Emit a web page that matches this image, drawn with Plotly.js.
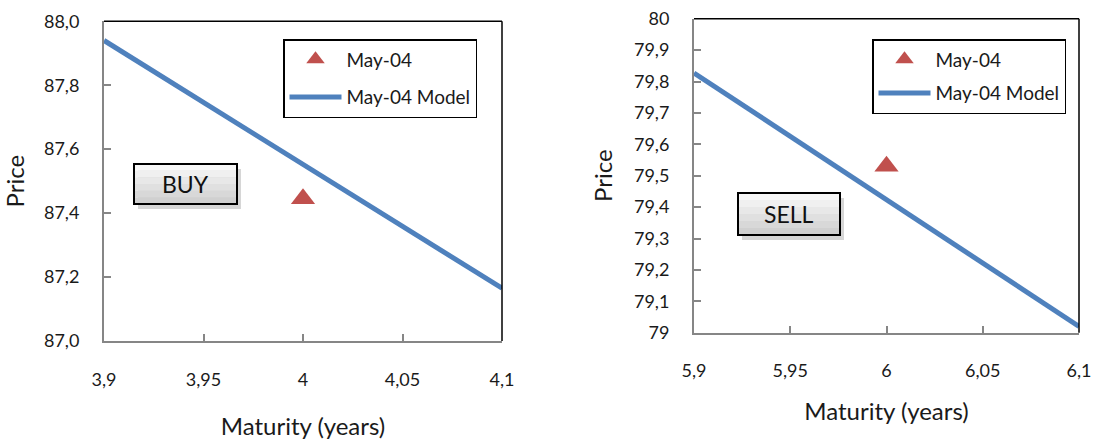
<!DOCTYPE html>
<html>
<head>
<meta charset="utf-8">
<script src="https://cdn.plot.ly/plotly-3.0.1.min.js"></script>
<style>html,body{margin:0;padding:0;background:#fff;}#chart{width:1097px;height:441px;}</style>
</head>
<body>
<div id="chart"></div>
<script>
// ---- data ----
const seriesNames = ["May-04", "May-04 Model"];
const buyMaturity = [4];
const buyPrice = [87.445];
const buyModelMaturity = [3.9, 4.1];
const buyModelPrice = [87.94, 87.165];
const sellMaturity = [6];
const sellPrice = [79.53];
const sellModelMaturity = [5.9, 6.1];
const sellModelPrice = [79.827, 79.02];
const signalLabels = ["BUY", "SELL"];
const xTitle = "Maturity (years)";
const yTitle = "Price";

// ---- styling / layout helpers ----
const W = 1097, H = 441;
const px = x => x / W;
const py = y => 1 - y / H;
const FONT = "Lato, 'Open Sans', sans-serif";
const RED = "#C0504D", BLUE = "#4F81BD", AXIS = "#868686";

const traces = [
  {x: buyMaturity, y: buyPrice, name: seriesNames[0], mode: "markers", type: "scatter",
   marker: {symbol: "triangle-up", size: 21, color: RED}, xaxis: "x", yaxis: "y", legend: "legend", legendgroup: "a"},
  {x: buyModelMaturity, y: buyModelPrice, name: seriesNames[1], mode: "lines", type: "scatter",
   line: {color: BLUE, width: 5}, xaxis: "x", yaxis: "y", legend: "legend", legendgroup: "b"},
  {x: sellMaturity, y: sellPrice, name: seriesNames[0], mode: "markers", type: "scatter",
   marker: {symbol: "triangle-up", size: 21, color: RED}, xaxis: "x2", yaxis: "y2", legend: "legend2", legendgroup: "c"},
  {x: sellModelMaturity, y: sellModelPrice, name: seriesNames[1], mode: "lines", type: "scatter",
   line: {color: BLUE, width: 5}, xaxis: "x2", yaxis: "y2", legend: "legend2", legendgroup: "d"}
];

function xAxis(domain, range, anchor, standoff) {
  return {domain: domain, range: range, anchor: anchor, dtick: 0.05, tick0: range[0],
    ticks: "inside", ticklen: 7, tickcolor: AXIS, tickwidth: 2,
    showline: true, linecolor: AXIS, linewidth: 2, showgrid: false, zeroline: false,
    ticklabelstandoff: 21, tickfont: {family: FONT, size: 18, color: "#1a1a1a"},
    title: {text: xTitle, font: {family: FONT, size: 24, color: "#1a1a1a"}, standoff: standoff},
    automargin: false, fixedrange: true};
}
function yAxis(domain, range, anchor, dtick, fmt, standoff) {
  return {domain: domain, range: range, anchor: anchor, dtick: dtick, tick0: range[0], tickformat: fmt,
    ticks: "inside", ticklen: 7, tickcolor: AXIS, tickwidth: 2,
    showline: true, linecolor: AXIS, linewidth: 2, showgrid: false, zeroline: false,
    ticklabelstandoff: 19, tickfont: {family: FONT, size: 18, color: "#1a1a1a"},
    title: {text: yTitle, font: {family: FONT, size: 24, color: "#1a1a1a"}, standoff: standoff},
    automargin: false, fixedrange: true};
}

function frame(xr, yr) {
  return [
    {type: "line", xref: xr + " domain", yref: yr + " domain", x0: 0, x1: 1, y0: 1, y1: 1, line: {color: "#000", width: 1.5}},
    {type: "line", xref: xr + " domain", yref: yr + " domain", x0: 1, x1: 1, y0: 0, y1: 1, line: {color: "#000", width: 1.5}}
  ];
}
function button(x0, y0, x1, y1) {
  const s = [];
  s.push({type: "rect", xref: "paper", yref: "paper", x0: px(x0 + 4), x1: px(x1 + 4), y0: py(y1 + 5), y1: py(y0 + 5),
          fillcolor: "rgba(0,0,0,0.16)", line: {width: 0}, layer: "above"});
  const bands = ["#f8f8f8", "#f0f0f0", "#e8e8e8", "#e0e0e0", "#d8d8d8", "#d0d0d0"];
  const h = (y1 - y0) / bands.length;
  bands.forEach((c, i) => s.push({type: "rect", xref: "paper", yref: "paper", x0: px(x0), x1: px(x1),
          y0: py(y0 + (i + 1) * h), y1: py(y0 + i * h), fillcolor: c, line: {width: 0}, layer: "above"}));
  s.push({type: "rect", xref: "paper", yref: "paper", x0: px(x0), x1: px(x1), y0: py(y1), y1: py(y0),
          fillcolor: "rgba(0,0,0,0)", line: {color: "#000", width: 2}, layer: "above"});
  return s;
}

const legendFont = {family: FONT, size: 19, color: "#1a1a1a"};
const layout = {
  width: W, height: H, margin: {l: 0, r: 0, t: 0, b: 0},
  paper_bgcolor: "#fff", plot_bgcolor: "#fff",
  separators: ", ",
  font: {family: FONT, color: "#1a1a1a"},
  xaxis: xAxis([px(104), px(502)], [3.9, 4.1], "y", 30),
  yaxis: yAxis([py(341), py(21.3)], [87, 88], "x", 0.2, ".1f", 16),
  xaxis2: xAxis([px(694), px(1079)], [5.9, 6.1], "y2", 23),
  yaxis2: yAxis([py(332.7), py(18.7)], [79, 80], "x2", 0.1, "", 15),
  legend: {x: px(283), y: py(39), xanchor: "left", yanchor: "top", bordercolor: "#000", borderwidth: 1.5,
           bgcolor: "#fff", font: legendFont, tracegroupgap: 10, itemwidth: 52},
  legend2: {x: px(872), y: py(39), xanchor: "left", yanchor: "top", bordercolor: "#000", borderwidth: 1.5,
           bgcolor: "#fff", font: legendFont, tracegroupgap: 6, itemwidth: 52},
  shapes: [].concat(frame("x", "y"), frame("x2", "y2"), button(134, 164, 237, 204), button(738, 193, 840, 235)),
  annotations: [
    {text: signalLabels[0], xref: "paper", yref: "paper", x: px(185.5), y: py(184), showarrow: false,
     font: {family: FONT, size: 23, color: "#111"}, xanchor: "center", yanchor: "middle"},
    {text: signalLabels[1], xref: "paper", yref: "paper", x: px(789), y: py(214), showarrow: false,
     font: {family: FONT, size: 23, color: "#111"}, xanchor: "center", yanchor: "middle"}
  ],
  showlegend: true
};

Plotly.newPlot("chart", traces, layout, {displayModeBar: false, staticPlot: true});
</script>
</body>
</html>
